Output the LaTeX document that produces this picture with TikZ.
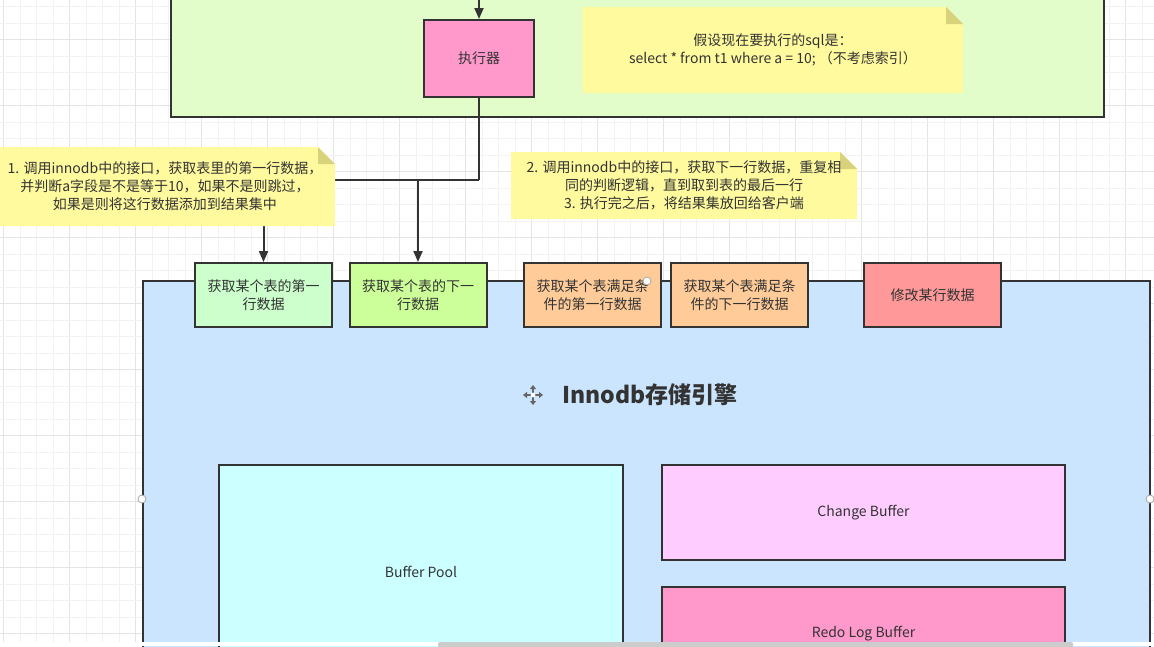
\documentclass[tikz,border=0pt]{standalone}
\usepackage{fontspec}
\setmainfont{Noto Sans CJK SC}
\usetikzlibrary{arrows.meta}

\definecolor{edge}{HTML}{333333}
\definecolor{txt}{HTML}{333333}
\definecolor{gridminor}{HTML}{F2F2F2}
\definecolor{gridmajor}{HTML}{E4E4E4}
\definecolor{sqlfill}{HTML}{E2FDC9}
\definecolor{execfill}{HTML}{FF99CC}
\definecolor{notefill}{HTML}{FFFA9E}
\definecolor{notefold}{HTML}{D8D27C}
\definecolor{enginefill}{HTML}{CCE5FF}
\definecolor{firstfill}{HTML}{CCFFCC}
\definecolor{nextfill}{HTML}{CCFF99}
\definecolor{condfill}{HTML}{FFCC99}
\definecolor{modfill}{HTML}{FF9999}
\definecolor{poolfill}{HTML}{CCFFFF}
\definecolor{changefill}{HTML}{FFCCFF}
\definecolor{redofill}{HTML}{FF99CC}

% sticky note with a folded top-right corner: name, x1, y1, x2, y2, text
\newcommand\notebox[6]{%
  \fill[notefill] (#2,#3) -- ({#4-17},#3) -- (#4,{#3+17}) -- (#4,#5) -- (#2,#5) -- cycle;
  \fill[notefold] ({#4-17},#3) -- (#4,{#3+17}) -- ({#4-17},{#3+17}) -- cycle;
  \node[notetext] (#1) at ({(#2+#4)/2},{(#3+#5)/2}) {#6};}

\begin{document}
\begin{tikzpicture}[x=1pt,y=-1pt,
  lbl/.style={font=\fontsize{14}{18}\selectfont, text=txt, align=center},
  notetext/.style={lbl, inner sep=0pt},
  stepbox/.style={lbl, draw=edge, line width=2pt, inner sep=0pt, minimum width=137pt, minimum height=64pt},
  panel/.style={draw=edge, line width=2pt, inner sep=0pt},
  flow/.style={draw=edge, line width=2pt, -{Triangle[length=11pt,width=9pt]}},
  handle/.style={draw=gray!70, fill=white, line width=0.8pt}]
\useasboundingbox (0,0) rectangle (1154,646);
\begin{scope}
\clip (0,0) rectangle (1154,646);
\fill[white] (0,0) rectangle (1154,646);

% canvas grid
\foreach \i in {0,...,69} {
  \pgfmathtruncatemacro\m{mod(\i,4)}
  \ifnum\m=0 \def\gc{gridmajor}\else\def\gc{gridminor}\fi
  \draw[\gc, line width=1pt] ({3.7+16.5*\i},0) -- ({3.7+16.5*\i},646);
}
\foreach \j in {0,...,38} {
  \pgfmathtruncatemacro\m{mod(\j,4)}
  \ifnum\m=2 \def\gc{gridmajor}\else\def\gc{gridminor}\fi
  \draw[\gc, line width=1pt] (0,{6.7+16.5*\j}) -- (1154,{6.7+16.5*\j});
}

% server layer
\node[panel, fill=sqlfill, minimum width=933pt, minimum height=147pt] (sqlbox) at (637.5,43.5) {};
\node[lbl, panel, fill=execfill, minimum width=110pt, minimum height=77pt] (exec) at (479,58.5) {执行器};
\coordinate (above) at (479,-20);
\draw[flow] (above) -- (exec.north);
\notebox{sqlnote}{583}{7}{963}{93}{假设现在要执行的sql是：\\select * from t1 where a = 10; （不考虑索引）}

% storage engine
\node[panel, fill=enginefill, minimum width=1007pt, minimum height=419pt] (engine) at (646.5,490.5) {};
\node[stepbox, fill=firstfill] (first) at (263.5,295) {获取某个表的第一\\行数据};
\node[stepbox, fill=nextfill] (next) at (418,295) {获取某个表的下一\\行数据};
\node[stepbox, fill=condfill] (condfirst) at (592.5,295) {获取某个表满足条\\件的第一行数据};
\node[stepbox, fill=condfill] (condnext) at (739.5,295) {获取某个表满足条\\件的下一行数据};
\node[stepbox, fill=modfill] (modify) at (932.5,295) {修改某行数据};

\node[font=\fontsize{23}{26}\selectfont\bfseries, text=txt] (title) at (650,395) {Innodb存储引擎};
% move cursor beside the title
\begin{scope}[gray!80!black, line width=1.4pt]
  \draw[{Triangle[length=4pt,width=6pt]}-{Triangle[length=4pt,width=6pt]}] (523,395) -- (543,395);
  \draw[{Triangle[length=4pt,width=6pt]}-{Triangle[length=4pt,width=6pt]}] (533,385) -- (533,405);
  \fill[white] (533,395) circle (2.4pt);
\end{scope}

\node[lbl, panel, fill=poolfill, minimum width=404pt, minimum height=214pt] (pool) at (421,572) {Buffer Pool};
\node[lbl, panel, fill=changefill, minimum width=403pt, minimum height=95pt] (change) at (863.5,512.5) {Change Buffer};
\node[lbl, panel, fill=redofill, minimum width=403pt, minimum height=94pt] (redo) at (863.5,634) {Redo Log Buffer};

% executor calls into the engine
\coordinate (split) at (479,180);
\draw[draw=edge, line width=2pt] (exec.south) -- (split);
\draw[flow] (split) -| (first.north);
\draw[flow] (split) -| (next.north);

\notebox{leftnote}{-5}{147}{335}{226}{1. 调用innodb中的接口，获取表里的第一行数据，\\并判断a字段是不是等于10，如果不是则跳过，\\如果是则将这行数据添加到结果集中}
\notebox{rightnote}{511}{152}{857}{219}{2. 调用innodb中的接口，获取下一行数据，重复相\\同的判断逻辑，直到取到表的最后一行\\3. 执行完之后，将结果集放回给客户端}

% connection handles
\draw[handle] (647,281) circle (4pt);
\draw[handle] (142,499) circle (4pt);
\draw[handle] (1150,499) circle (4pt);

% bottom scroll strip
\fill[white] (0,642) rectangle (1154,646);
\fill[gray!40, rounded corners=2pt] (438,642) rectangle (1073,648);
\end{scope}
\end{tikzpicture}
\end{document}
